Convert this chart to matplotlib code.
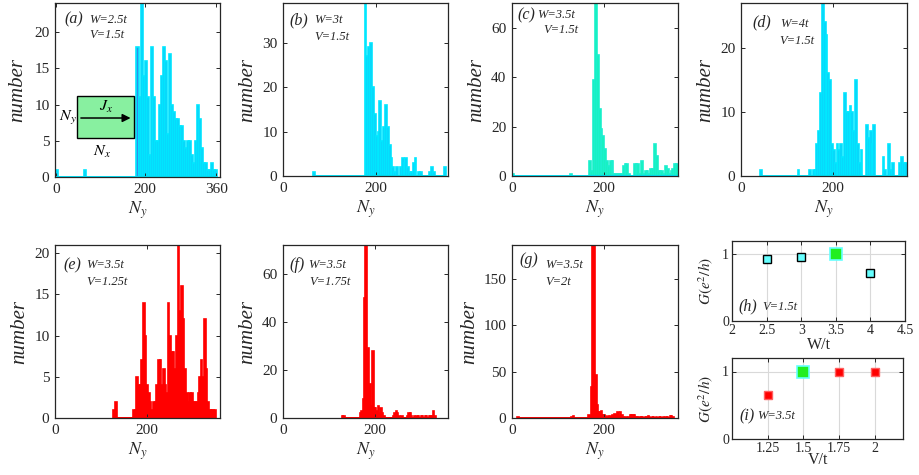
import numpy as np
import matplotlib
matplotlib.use('Agg')
import matplotlib.pyplot as plt
from matplotlib.patches import Rectangle

plt.rcParams['font.family'] = ['Liberation Serif', 'DejaVu Serif']
plt.rcParams['mathtext.fontset'] = 'stix'

# ---------- data (histogram counts per N_y bin) ----------
# (a) W=2.5t, V=1.5t
a_start, a_width = 183, 4.5
a_counts = [18, 11, 24, 14, 16, 11, 3, 18, 11, 5, 5, 10, 14, 18, 16, 6, 17, 10, 9, 8,
            8, 7, 7, 5, 4, 5, 5, 3, 2, 5, 10, 8, 4, 2, 2, 1, 1, 2, 1, 1]
a_extra = [(2, 1), (65, 1)]

# (b) W=3t, V=1.5t
b_start, b_width = 178, 4
b_counts = [39, 27, 29, 30, 20, 14, 9, 10, 17, 8, 11, 16, 11, 7, 4, 2, 1, 2, 0, 2,
            4, 3, 4, 2, 1, 1, 3, 4, 0, 1, 1, 0, 0, 0, 0, 1, 2, 1, 0, 0, 0, 0, 0, 2]
b_extra = [(67, 1)]

# (c) W=3.5t, V=1.5t
c_start, c_width = 170, 4
c_counts = [6, 2, 39, 70, 49, 27, 19, 16, 11, 6, 4, 6, 6, 1, 1, 1, 1, 1, 4, 5,
            5, 1, 0, 0, 5, 5, 5, 1, 6, 1, 2, 2, 1, 3, 3, 13, 8, 2, 2, 2,
            1, 4, 3, 1, 2, 3, 5, 5]
c_extra = [(2, 1), (128, 1)]

# (d) W=4t, V=1.5t
d_start, d_width = 150, 4
d_counts = [1, 0, 1, 1, 5, 7, 13, 27, 24, 22, 16, 15, 5, 4, 2, 5, 4, 5, 3, 13,
            10, 10, 11, 10, 7, 15, 5, 2, 4, 0, 0, 8, 6, 7, 5, 8, 0, 0, 0, 0,
            3, 1, 0, 5, 1, 2, 0, 0, 0, 2, 3, 2, 2]
d_extra = [(43, 1), (125, 1)]

# (e) W=3.5t, V=1.25t
e_start, e_width = 129.2, 3.6
e_counts = [1, 2, 0, 0, 0, 0, 0, 0, 0, 0, 0, 0, 1, 1, 5, 4, 4, 7, 14, 10,
            4, 3, 2, 1, 2, 2, 4, 7, 7, 4, 6, 4, 3, 14, 10, 8, 8, 6, 10, 21,
            13, 16, 12, 6, 3, 2, 3, 3, 2, 2, 2, 3, 5, 7, 5, 12, 6, 2, 1, 1, 1, 1]
e_extra = []

# (f) W=3.5t, V=1.75t
f_start, f_width = 129, 3
f_counts = [1, 1, 0, 0, 0, 0, 0, 0, 0, 0, 0, 0, 0, 2, 3, 8, 50, 72, 28, 29,
            14, 5, 28, 4, 4, 3, 5, 2, 4, 2, 1, 0, 0, 0, 0, 0, 0, 1, 2, 3,
            2, 1, 0, 1, 0, 0, 0, 1, 2, 2, 1, 0, 1, 0, 1, 1, 0, 1, 1, 0,
            1, 1, 0, 1, 1, 1, 3, 1]
f_extra = []

# (g) W=3.5t, V=2t
g_start, g_width = 168, 3
g_counts = [3, 2, 34, 187, 187, 47, 14, 7, 7, 8, 3, 3, 2, 1, 2, 1, 2, 3, 2, 4,
            3, 7, 2, 7, 3, 1, 0, 1, 0, 1, 3, 3, 3, 3, 1, 1, 0, 1, 1, 1,
            0, 1, 1, 2, 1, 0, 1, 1, 0, 1, 0, 1, 1, 0, 1, 0, 1, 1, 0, 2, 2, 1]
g_extra = [(13, 1), (131, 1), (134, 2)]

# (h) conductance vs W at V=1.5t
w_vals = [2.5, 3, 3.5, 4]
g_vs_w = [0.925, 0.955, 1.0, 0.725]
w_star = 3.5
w_ticks = ['2', '2.5', '3', '3.5', '4', '4.5']
# (i) conductance vs V at W=3.5t
v_vals = [1.25, 1.5, 1.75, 2]
g_vs_v = [0.653, 1.0, 1.0, 1.0]
v_star = 1.5
v_ticks = ['1.25', '1.5', '1.75', '2']

CYAN_FACE, CYAN_EDGE = '#2F8FE8', '#00E8FF'
MINT_FACE, MINT_EDGE = '#00FF88', '#1CEFD0'
RED = '#FF0000'
AXC = '#262626'

W, H = 919, 475
fig = plt.figure(figsize=(W / 100, H / 100), dpi=100)


def px_axes(l, t, r, b):
    return fig.add_axes([l / W, 1 - b / H, (r - l) / W, (b - t) / H])


def style(ax, size=11):
    for s in ax.spines.values():
        s.set_color(AXC)
        s.set_linewidth(0.9)
    ax.tick_params(direction='in', top=True, right=True, length=3,
                   width=0.7, colors=AXC, labelsize=size, pad=4)


def hist_panel(ax, start, width, counts, extra, face, edge, ymax, xmax,
               yticks, xticks=(0, 200), base=None):
    x = start + width * np.arange(len(counts))
    ax.bar(x, counts, width=width, color=face, edgecolor=edge, linewidth=1.2)
    if extra:
        ex, ey = zip(*extra)
        ax.bar(ex, ey, width=width, color=face, edgecolor=edge, linewidth=1.2)
        x0 = min(ex) - width / 2
    else:
        x0 = x[0] - width / 2
    ax.plot([x0, x[-1] + width / 2], [0, 0], color=base or edge, lw=1.4,
            solid_capstyle='butt')
    ax.set_xlim(0, xmax)
    ax.set_ylim(0, ymax)
    ax.set_yticks(yticks)
    ax.set_xticks(list(xticks))
    style(ax)
    ax.set_ylabel('number', fontsize=15, style='italic', color=AXC)
    ax.yaxis.set_label_coords(-0.155, 0.5)
    ax.set_xlabel('$N_y$', fontsize=13, color=AXC)
    ax.xaxis.set_label_coords(0.5, -0.13)


def labels(ax, tag, p1, p2, pos):
    (tx, ty), (wx, wy), (vx, vy) = pos
    ax.text(tx, ty, tag, transform=ax.transAxes, fontsize=11.5, style='italic',
            ha='left', va='center', color=AXC)
    ax.text(wx, wy, p1, transform=ax.transAxes, fontsize=9, style='italic',
            ha='left', va='center', color=AXC)
    ax.text(vx, vy, p2, transform=ax.transAxes, fontsize=9, style='italic',
            ha='left', va='center', color=AXC)


# ----- top row -----
ax_a = px_axes(55, 3, 220, 177)
hist_panel(ax_a, a_start, a_width, a_counts, a_extra, CYAN_FACE, CYAN_EDGE,
           24, 368, [0, 5, 10, 15, 20], xticks=(0, 200, 360))
ax_a.set_xlim(-2, 368)
ax_a.yaxis.set_label_coords(-0.17, 0.5)
labels(ax_a, '(a)', 'W=2.5t', 'V=1.5t', ((0.06, 0.905), (0.21, 0.905), (0.21, 0.815)))
# inset sketch of the ribbon
ax_a.add_patch(Rectangle((0.135, 0.224), 0.344, 0.242, transform=ax_a.transAxes,
                         facecolor='#88F0A0', edgecolor='k', lw=1, zorder=5))
ax_a.annotate('', xy=(0.475, 0.339), xytext=(0.14, 0.339), xycoords='axes fraction',
              arrowprops=dict(arrowstyle='-|>', color='k', lw=1.1,
                              mutation_scale=12), zorder=6)
ax_a.text(0.31, 0.405, '$J_x$', transform=ax_a.transAxes, fontsize=11.5,
          ha='center', va='center', zorder=7)
ax_a.text(0.075, 0.339, '$N_y$', transform=ax_a.transAxes, fontsize=11.5,
          ha='center', va='center')
ax_a.text(0.285, 0.144, '$N_x$', transform=ax_a.transAxes, fontsize=11.5,
          ha='center', va='center')

ax_b = px_axes(283, 3, 448, 176)
hist_panel(ax_b, b_start, b_width, b_counts, b_extra, CYAN_FACE, CYAN_EDGE,
           39, 356, [0, 10, 20, 30])
labels(ax_b, '(b)', 'W=3t', 'V=1.5t', ((0.04, 0.9), (0.19, 0.9), (0.19, 0.805)))

ax_c = px_axes(512, 3, 678, 176)
hist_panel(ax_c, c_start, c_width, c_counts, c_extra, MINT_FACE, MINT_EDGE,
           70, 360, [0, 20, 40, 60], base=CYAN_EDGE)
labels(ax_c, '(c)', 'W=3.5t', 'V=1.5t', ((0.03, 0.93), (0.15, 0.93), (0.19, 0.845)))

ax_d = px_axes(741, 3, 907, 176)
hist_panel(ax_d, d_start, d_width, d_counts, d_extra, CYAN_FACE, CYAN_EDGE,
           27, 361, [0, 10, 20])
labels(ax_d, '(d)', 'W=4t', 'V=1.5t', ((0.066, 0.89), (0.233, 0.88), (0.233, 0.78)))

# ----- bottom row -----
ax_e = px_axes(55, 245, 220, 418)
hist_panel(ax_e, e_start, e_width, e_counts, e_extra, RED, RED,
           21, 360, [0, 5, 10, 15, 20])
labels(ax_e, '(e)', 'W=3.5t', 'V=1.25t', ((0.05, 0.884), (0.188, 0.884), (0.188, 0.787)))

ax_f = px_axes(283, 245, 448, 418)
hist_panel(ax_f, f_start, f_width, f_counts, f_extra, RED, RED,
           72, 358, [0, 20, 40, 60])
labels(ax_f, '(f)', 'W=3.5t', 'V=1.75t', ((0.04, 0.884), (0.153, 0.884), (0.16, 0.787)))

ax_g = px_axes(512, 245, 678, 418)
hist_panel(ax_g, g_start, g_width, g_counts, g_extra, RED, RED,
           187, 362, [0, 50, 100, 150])
ax_g.yaxis.set_label_coords(-0.2, 0.5)
labels(ax_g, '(g)', 'W=3.5t', 'V=2t', ((0.047, 0.913), (0.2, 0.884), (0.2, 0.787)))

# ----- conductance panels -----
ax_h = px_axes(732, 241, 905, 321)
style(ax_h, 10)
ax_h.grid(True, color='#d9d9d9', lw=0.8)
ax_h.set_axisbelow(True)
wv, gw = np.array(w_vals), np.array(g_vs_w)
m = wv == w_star
ax_h.plot(wv[~m], gw[~m], 's', mfc='#66FFFF', mec='k', ms=6, mew=1)
ax_h.plot(wv[m], gw[m], 's', mfc='#22EE22', mec='#66FFFF', ms=8.5, mew=1.2)
ax_h.set_xlim(2, 4.5)
ax_h.set_ylim(0, 1.2)
ax_h.set_xticks([2, 2.5, 3, 3.5, 4, 4.5])
ax_h.set_xticklabels(w_ticks)
ax_h.set_yticks([0, 1])
ax_h.tick_params(pad=2)
ax_h.set_xlabel('W/t', fontsize=11.5, color=AXC, labelpad=0)
ax_h.set_ylabel('$G(e^2/h)$', fontsize=11, color=AXC)
ax_h.yaxis.set_label_coords(-0.1, 0.5)
ax_h.text(0.035, 0.18, '(h)', transform=ax_h.transAxes, fontsize=11.5,
          style='italic', va='center', color=AXC)
ax_h.text(0.175, 0.18, 'V=1.5t', transform=ax_h.transAxes, fontsize=9,
          style='italic', va='center', color=AXC)

ax_i = px_axes(732, 358, 903, 439)
style(ax_i, 10)
ax_i.grid(True, color='#d9d9d9', lw=0.8)
ax_i.set_axisbelow(True)
vv, gv = np.array(v_vals), np.array(g_vs_v)
m = vv == v_star
ax_i.plot(vv[~m], gv[~m], 's', mfc=RED, mec='#FF6060', ms=6, mew=1)
ax_i.plot(vv[m], gv[m], 's', mfc='#22EE22', mec='#66FFFF', ms=8.5, mew=1.2)
ax_i.set_xlim(1, 2.2)
ax_i.set_ylim(0, 1.2)
ax_i.set_xticks(v_vals)
ax_i.set_xticklabels(v_ticks)
ax_i.set_yticks([0, 1])
ax_i.tick_params(pad=2)
ax_i.set_xlabel('V/t', fontsize=11.5, color=AXC, labelpad=-2)
ax_i.set_ylabel('$G(e^2/h)$', fontsize=11, color=AXC)
ax_i.yaxis.set_label_coords(-0.1, 0.5)
ax_i.text(0.045, 0.28, '(i)', transform=ax_i.transAxes, fontsize=11.5,
          style='italic', va='center', color=AXC)
ax_i.text(0.145, 0.28, 'W=3.5t', transform=ax_i.transAxes, fontsize=9,
          style='italic', va='center', color=AXC)

fig.savefig('out.png', dpi=100)
